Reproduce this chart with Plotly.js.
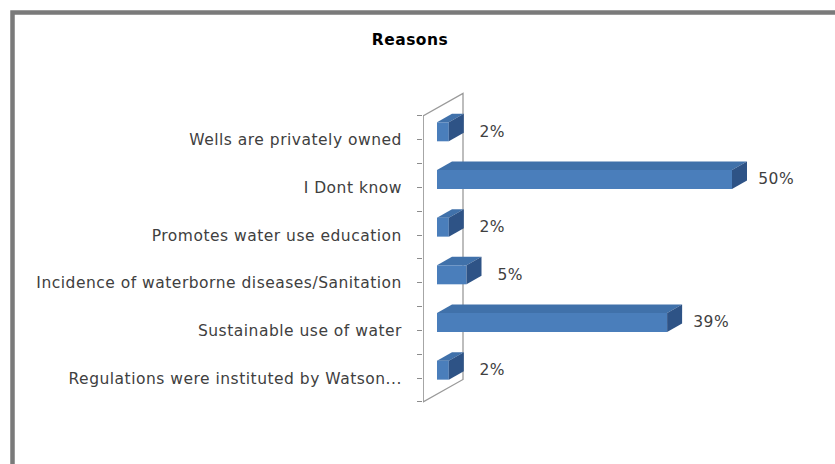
<!DOCTYPE html>
<html>
<head>
<meta charset="utf-8">
<script src="https://cdn.plot.ly/plotly-3.0.1.min.js"></script>
<style>html,body{margin:0;padding:0;background:#fff;}#chart{width:835px;height:464px;}#chart text{letter-spacing:0.5px;}</style>
</head>
<body>
<div id="chart"></div>
<script>
// ---- data ----
const categories = [
  "Wells are privately owned",
  "I Dont know",
  "Promotes water use education",
  "Incidence of waterborne diseases/Sanitation",
  "Sustainable use of water",
  "Regulations were instituted by Watson..."
];
const values = [2, 50, 2, 5, 39, 2];
const valueLabels = ["2%", "50%", "2%", "5%", "39%", "2%"];
const chartTitle = "Reasons";

// ---- geometry / style ----
const W = 835, H = 464;
const ML = 423, MR = 35, MT = 80, MB = 50;
const plotW = W - ML - MR, plotH = H - MT - MB;
const ZERO_PX = 437;      // pixel of 0% on the bar plane
const PXU = 5.9;          // pixels per percent
const CAT0_PY = 139.8;    // pixel of first category on the front axis
const CAT_STEP = 47.67;   // pixels between categories
const BAR_UP = 8;         // bar plane shift up (px)
const BAR_H = 19;         // front face height (px)
const DEPTH_DX = 15, DEPTH_DY = 8.5;   // bar depth (px)
const WALL_DX = 40, WALL_DY = 22.5;    // wall depth (px)
const FONT = "'DejaVu Sans', sans-serif";
const C_FRONT = "#4A7EBB", C_TOP = "#4071AA", C_SIDE = "#2E5386";

const xRange = [(ML - ZERO_PX) / PXU, (ML + plotW - ZERO_PX) / PXU];
const yRange = [(MT + plotH - CAT0_PY) / CAT_STEP, (MT - CAT0_PY) / CAT_STEP];
const ddx = px => px / PXU;
const ddy = px => px / CAT_STEP;

const n = categories.length;
const idx = categories.map((_, i) => i);
const yc = idx.map(i => i - ddy(BAR_UP));
const halfH = ddy(BAR_H) / 2;

const shapes = [];
// back wall (drawn below bars)
const wx0 = xRange[0], wTop = -0.5, wBot = n - 0.5;
shapes.push({
  type: "path", xref: "x", yref: "y", layer: "below",
  path: `M${wx0},${wBot} L${wx0},${wTop} L${wx0 + ddx(WALL_DX)},${wTop - ddy(WALL_DY)} L${wx0 + ddx(WALL_DX)},${wBot - ddy(WALL_DY)} Z`,
  line: {color: "#9a9a9a", width: 1.3}
});
// 3D faces of the bars
values.forEach((v, i) => {
  const t = yc[i] - halfH, b = yc[i] + halfH;
  const ox = ddx(DEPTH_DX), oy = ddy(DEPTH_DY);
  shapes.push({
    type: "path", xref: "x", yref: "y", layer: "above",
    path: `M0,${t} L${v},${t} L${v + ox},${t - oy} L${ox},${t - oy} Z`,
    fillcolor: C_TOP, line: {width: 0}
  });
  shapes.push({
    type: "path", xref: "x", yref: "y", layer: "above",
    path: `M${v},${t} L${v + ox},${t - oy} L${v + ox},${b - oy} L${v},${b} Z`,
    fillcolor: C_SIDE, line: {width: 0}
  });
});
// outer frame
shapes.push({
  type: "rect", xref: "paper", yref: "paper",
  x0: (12.5 - ML) / plotW, x1: (W + 10 - ML) / plotW,
  y0: (MT + plotH - (H + 10)) / plotH, y1: (MT + plotH - 12.5) / plotH,
  line: {color: "#7a7a7a", width: 4.5}, fillcolor: "rgba(0,0,0,0)"
});

const annotations = values.map((v, i) => ({
  x: v + ddx(44), y: yc[i], xref: "x", yref: "y",
  text: valueLabels[i], showarrow: false, xanchor: "center", yanchor: "middle",
  font: {family: FONT, size: 15.5, color: "#404040"}
}));

const tickvals = [], ticktext = [];
for (let k = -1; k < 2 * n; k++) {
  const val = k / 2;
  tickvals.push(val);
  ticktext.push(k >= 0 && k % 2 === 0 ? categories[k / 2] : "");
}

const trace = {
  type: "bar", orientation: "h",
  x: values, y: yc, base: 0, width: ddy(BAR_H),
  marker: {color: C_FRONT, line: {width: 0}},
  hoverinfo: "skip", cliponaxis: false
};

const layout = {
  width: W, height: H,
  margin: {l: ML, r: MR, t: MT, b: MB, pad: 0},
  paper_bgcolor: "#fff", plot_bgcolor: "rgba(0,0,0,0)",
  showlegend: false,
  title: {
    text: "<b>" + chartTitle + "</b>", xref: "container", yref: "container",
    x: 410 / W, y: 1 - 40 / H, xanchor: "center", yanchor: "middle",
    font: {family: FONT, size: 15.5, color: "#000"}
  },
  xaxis: {range: xRange, visible: false, showgrid: false, zeroline: false, fixedrange: true},
  yaxis: {
    range: yRange, tickmode: "array", tickvals: tickvals, ticktext: ticktext,
    ticks: "outside", ticklen: 5, tickcolor: "#8c8c8c", tickwidth: 1,
    ticklabelstandoff: 12,
    showline: false, showgrid: false, zeroline: false, fixedrange: true,
    tickfont: {family: FONT, size: 15.5, color: "#404040"}
  },
  shapes: shapes.concat([{
    type: "line", xref: "x", yref: "y", layer: "below",
    x0: xRange[0], x1: xRange[0], y0: -0.5 - ddy(1), y1: n - 0.5,
    line: {color: "#9a9a9a", width: 1.3}
  }]),
  annotations: annotations
};

Plotly.newPlot("chart", [trace], layout, {staticPlot: true, displayModeBar: false});
</script>
</body>
</html>
